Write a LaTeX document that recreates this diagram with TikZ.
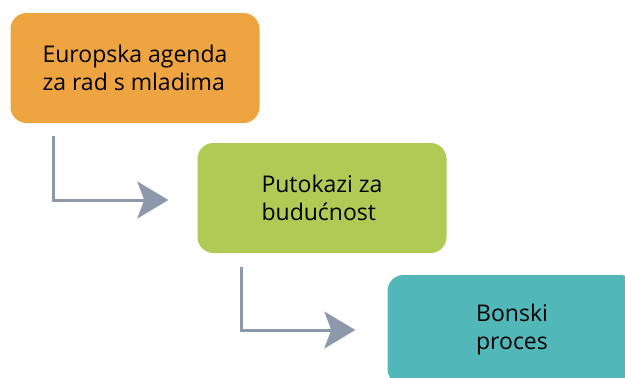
\documentclass[tikz,border=0pt]{standalone}
\usepackage{fontspec}
\setmainfont{Open Sans}
\usetikzlibrary{arrows.meta,calc}
\definecolor{borange}{HTML}{EEA541}
\definecolor{bgreen}{HTML}{AFCB55}
\definecolor{bteal}{HTML}{52B7B8}
\definecolor{agray}{HTML}{8D98AA}
\tikzset{
  box/.style={rounded corners=16pt, minimum width=249pt, minimum height=110pt, inner sep=0pt, align=left, font=\fontsize{23}{28}\selectfont, text=black},
  conn/.style={draw=agray, line width=3pt, -{Stealth[length=31pt,width=37pt,inset=7pt]}}
}
\begin{document}
\begin{tikzpicture}[x=1pt,y=-1pt]
\useasboundingbox (0,0) rectangle (625,378);
\node[box, fill=borange] (b1) at (135,68) {Europska agenda\\za rad s mladima};
\node[box, fill=bgreen] (b2) at (322,198) {Putokazi za\\budućnost};
\node[box, fill=bteal, align=center] (b3) at (512,330) {Bonski\\proces};
\draw[conn, shorten <=13pt, shorten >=29pt] ($(b1.south west)+(43,0)$) |- ($(b2.west)+(0,2)$);
\draw[conn, shorten <=14pt, shorten >=32pt] ($(b2.south west)+(44,0)$) |- (b3.west);
\end{tikzpicture}
\end{document}
